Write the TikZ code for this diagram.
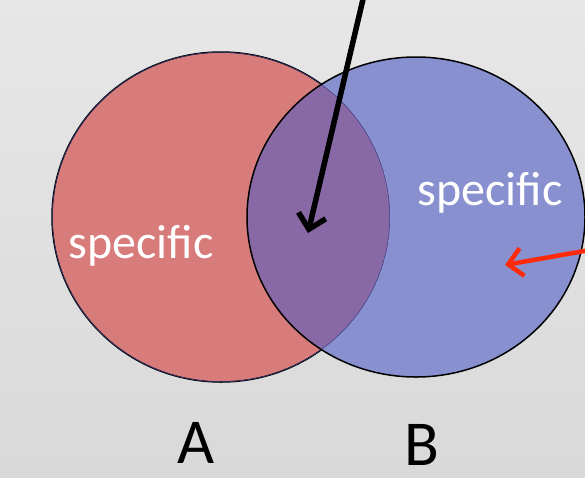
\documentclass[tikz,border=0pt]{standalone}
\usepackage{fontspec}
\setmainfont{Carlito}
\usetikzlibrary{arrows.meta}
\definecolor{bgtop}{HTML}{E7E7E7}
\definecolor{bgbot}{HTML}{D9D9D9}
\definecolor{setred}{HTML}{D87C7B}
\definecolor{setblue}{HTML}{8890D0}
\definecolor{setpurple}{HTML}{8869A5}
\definecolor{innerline}{HTML}{3C3F86}
\definecolor{arrred}{HTML}{FF2A0A}
\tikzset{
  outline/.style={line width=1.5pt, draw=black},
  settext/.style={text=white, font=\fontsize{48}{52}\selectfont, anchor=base, inner sep=0pt},
  setlabel/.style={text=black, font=\fontsize{64}{70}\selectfont, anchor=base, inner sep=0pt, text depth=0pt},
  pointer/.style={line width=5.5pt, -{Straight Barb[length=14pt,width=28pt]}}
}
\begin{document}
\begin{tikzpicture}[x=1pt,y=-1pt]
\useasboundingbox (0,0) rectangle (585,477);
\shade[top color=bgtop,bottom color=bgbot] (0,0) rectangle (585,477);
% set A
\fill[setred] (221,217) ellipse [x radius=169, y radius=165];
\draw[outline] (221,217) ellipse [x radius=169, y radius=165];
% set B
\fill[setblue] (416,217) ellipse [x radius=169, y radius=160];
\begin{scope}
  \clip (221,217) ellipse [x radius=169, y radius=165];
  \fill[setpurple] (416,217) ellipse [x radius=169, y radius=160];
  \draw[innerline, line width=1pt] (221,217) ellipse [x radius=169, y radius=165];
\end{scope}
\draw[outline] (416,217) ellipse [x radius=169, y radius=160];
% texts
\node[settext] (specA) at (141,258) {specific};
\node[settext] (specB) at (490,205) {specific};
\node[setlabel] (labA) at (196,463) {A};
\node[setlabel] (labB) at (422,465) {B};
% arrows
\coordinate (blackstart) at (364,-5);
\coordinate (blacktip) at (308,233);
\coordinate (redstart) at (590,250);
\coordinate (redtip) at (505,265);
\draw[pointer, draw=black] (blackstart) -- (blacktip);
\draw[pointer, draw=arrred, line width=4.5pt] (redstart) -- (redtip);
\end{tikzpicture}
\end{document}
